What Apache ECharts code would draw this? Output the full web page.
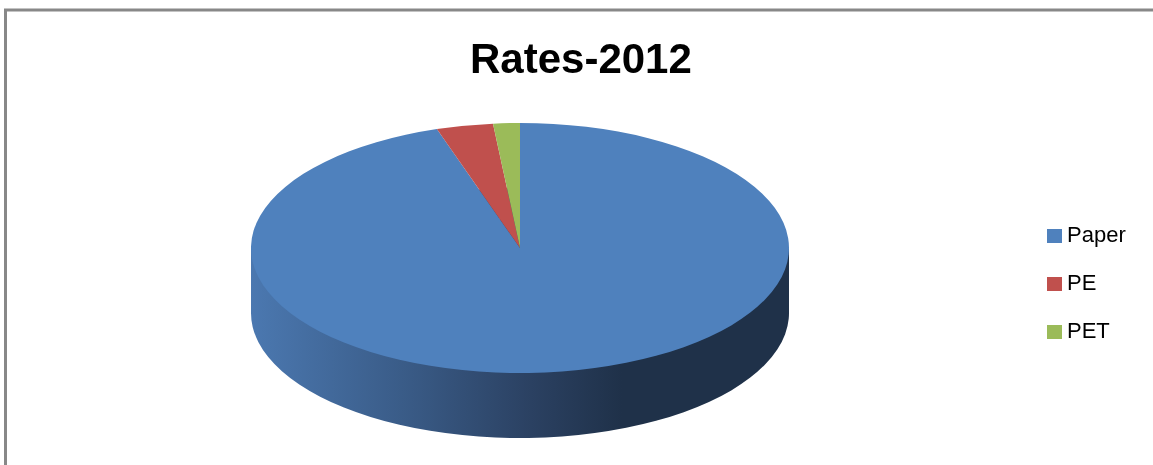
<!DOCTYPE html>
<html>
<head>
<meta charset="utf-8">
<script src="https://cdn.jsdelivr.net/npm/echarts@6/dist/echarts.min.js"></script>
<style>
  html, body { margin: 0; padding: 0; background: #fff; }
  #wrap { position: relative; width: 1153px; height: 465px; overflow: hidden; }
  #base { position: absolute; left: 0; top: 0; width: 1153px; height: 465px; }
  #pie { position: absolute; left: 0; top: 0; width: 1153px; height: 1000px;
         transform-origin: 0 0; pointer-events: none; }
</style>
</head>
<body>
<div id="wrap">
  <div id="base"></div>
  <div id="pie"></div>
</div>
<script>
// ---- data ----
const titleText = 'Rates-2012';
const categories = ['Paper', 'PE', 'PET'];
const values = [95.0, 3.4, 1.6];
const colors = ['#4F81BD', '#C0504D', '#9BBB59'];

// ---- geometry (screen pixels) ----
const CX = 520, CY = 248, RX = 269, RY = 125, DEPTH = 65;
const S = RY / RX;                 // vertical squash
const cyU = CY / S, depthU = DEPTH / S;

const seriesData = categories.map((c, i) => ({ name: c, value: values[i] }));

// base layer: border, title, legend
const base = echarts.init(document.getElementById('base'));
base.setOption({
  animation: false,
  color: colors,
  title: {
    text: titleText, left: 470, top: 40, padding: 0,
    textStyle: { fontFamily: 'Liberation Sans, Arial', fontWeight: 'bold', fontSize: 42, color: '#000' }
  },
  legend: {
    orient: 'vertical', left: 1047, top: 225, padding: 0,
    itemWidth: 15, itemHeight: 14, itemGap: 26,
    icon: 'rect',
    textStyle: { fontFamily: 'Liberation Sans, Arial', fontSize: 22, color: '#000' },
    data: categories
  },
  graphic: [{
    type: 'rect', silent: true,
    shape: { x: 5.5, y: 10, width: 2000, height: 1000 },
    style: { fill: 'none', stroke: '#888888', lineWidth: 3 }
  }],
  series: [{
    type: 'pie', radius: [0, 0], center: [CX, CY], silent: true,
    label: { show: false }, labelLine: { show: false },
    data: seriesData
  }]
});

// pie layer: drawn unsquashed, then squashed vertically
const pieEl = document.getElementById('pie');
pieEl.style.transform = 'scaleY(' + S + ')';
const pie = echarts.init(pieEl, null, { renderer: 'svg' });
const sideGrad = new echarts.graphic.LinearGradient(CX - RX, 0, CX + RX, 0, [
  { offset: 0, color: '#4b78b0' },
  { offset: 0.28, color: '#3a5c88' },
  { offset: 0.52, color: '#2b4162' },
  { offset: 0.69, color: '#1f3149' },
  { offset: 1, color: '#1f3149' }
], true);
pie.setOption({
  animation: false,
  color: colors,
  graphic: [{
    type: 'rect', silent: true, z: 1,
    shape: { x: CX - RX, y: cyU, width: 2 * RX, height: depthU },
    style: { fill: sideGrad }
  }],
  series: [{
    type: 'pie', z: 0, radius: RX, center: [CX, cyU + depthU],
    startAngle: 90, clockwise: true, silent: true,
    label: { show: false }, labelLine: { show: false },
    itemStyle: { color: sideGrad, borderWidth: 0 },
    data: seriesData
  }, {
    type: 'pie', z: 5, radius: RX, center: [CX, cyU],
    startAngle: 90, clockwise: true, silent: true,
    label: { show: false }, labelLine: { show: false },
    itemStyle: { borderWidth: 0 },
    data: seriesData
  }]
});
</script>
</body>
</html>
